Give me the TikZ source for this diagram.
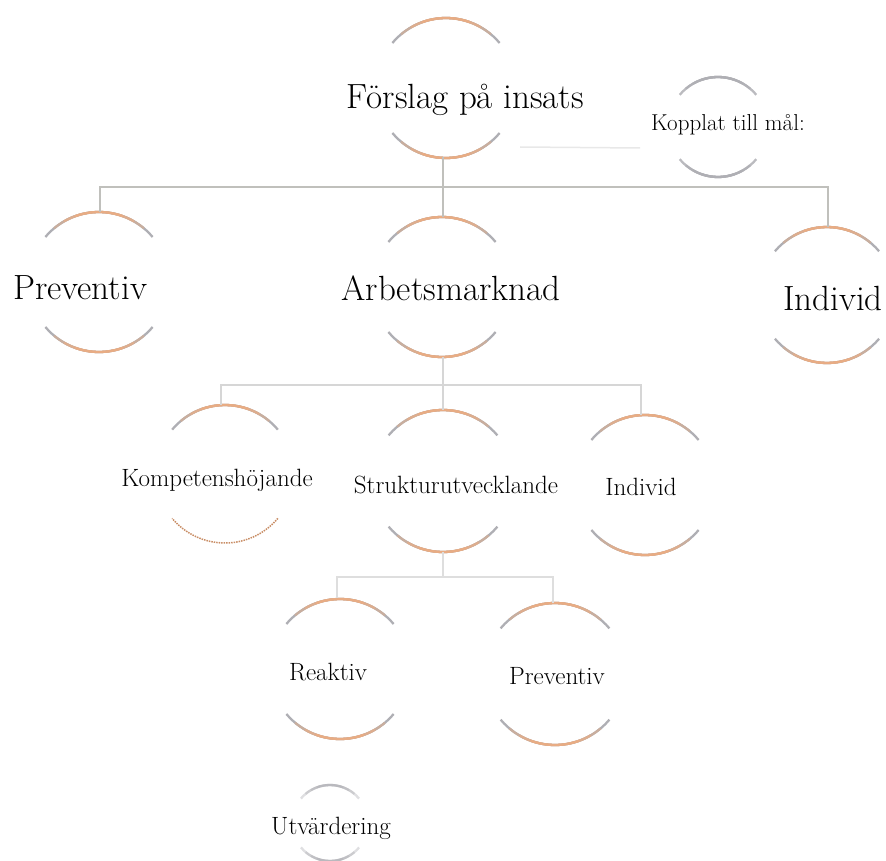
\documentclass[tikz,border=0pt]{standalone}
\usetikzlibrary{calc}
\definecolor{arcor}{RGB}{232,172,132}
\definecolor{arcgr}{RGB}{175,175,180}
\definecolor{arcbrown}{RGB}{200,140,100}
\definecolor{lineA}{RGB}{192,192,188}
\definecolor{lineB}{RGB}{214,214,214}
\definecolor{lineC}{RGB}{222,222,222}
% one arc of a ring: centre (#1,-#2), radius #3, middle colour #4, from angle #5 to #6 (grey ends)
\newcommand{\ringarc}[6]{%
  \draw[line width=2.3pt, arcgr] ([shift={(#5:#3)}]#1,-#2) arc (#5:#6:#3);
  \draw[line width=2.3pt, #4!45!arcgr] ([shift={(#5+10:#3)}]#1,-#2) arc (#5+10:#6-10:#3);
  \draw[line width=2.3pt, #4!80!arcgr] ([shift={(#5+20:#3)}]#1,-#2) arc (#5+20:#6-20:#3);
  \draw[line width=2.3pt, #4] ([shift={(#5+30:#3)}]#1,-#2) arc (#5+30:#6-30:#3);
}
\newcommand{\ringtop}[4]{\ringarc{#1}{#2}{#3}{#4}{40}{140}}
\newcommand{\ringbot}[4]{\ringarc{#1}{#2}{#3}{#4}{220}{320}}
\newcommand{\ringarcs}[4]{\ringtop{#1}{#2}{#3}{#4}\ringbot{#1}{#2}{#3}{#4}}
\begin{document}
\begin{tikzpicture}[x=1pt,y=1pt,
  lbl/.style={inner sep=0pt, text=black},
  big/.style={lbl, font=\fontsize{35}{40}\selectfont},
  mid/.style={lbl, font=\fontsize{25}{29}\selectfont},
  small/.style={lbl, font=\fontsize{23}{27}\selectfont},
  connA/.style={draw=lineA, line width=2.2pt},
  connB/.style={draw=lineB, line width=2.4pt},
  connC/.style={draw=lineC, line width=2.6pt},
  faint/.style={draw=black!9, line width=1.5pt}]
\useasboundingbox (0,0) rectangle (886,-861);

% rings
\ringarcs{446}{88}{70}{arcor}
\begin{scope}[opacity=0.85]
\ringarcs{718}{127}{50}{arcgr}
\end{scope}
\ringarcs{99}{282}{70}{arcor}
\ringarcs{442}{287}{70}{arcor}
\ringarcs{827}{295}{68}{arcor}
\ringtop{225}{474}{69}{arcor}
\draw[arcbrown, line width=1.5pt, densely dotted] ([shift={(-40:69)}]225,-474) arc (-40:-140:69);
\ringarcs{443}{481}{71}{arcor}
\ringarcs{645}{485}{70}{arcor}
\ringarcs{340}{669}{70}{arcor}
\ringarcs{555}{674}{71}{arcor}
\begin{scope}[opacity=0.4]
\ringarcs{330}{823}{38}{arcgr}
\end{scope}

% labels
\node[big]   (top)  at (465,-100) {Förslag på insats};
\node[small] (kop)  at (728,-125) {Kopplat till mål:};
\node[big]   (pre)  at (80,-288)  {Preventiv};
\node[big]   (arb)  at (451,-288) {Arbetsmarknad};
\node[big]   (ind)  at (833,-298) {Individ};
\node[mid]   (komp) at (217,-480) {Kompetenshöjande};
\node[mid]   (str)  at (456,-485) {Strukturutvecklande};
\node[mid]   (ind3) at (641,-487) {Individ};
\node[mid]   (rea)  at (328,-672) {Reaktiv};
\node[mid]   (pre4) at (557,-676) {Preventiv};
\node[mid]   (utv)  at (331,-828) {Utvärdering};

% connector end points (tops / bottoms of the rings)
\coordinate (top-b)  at (443,-157);
\coordinate (top-r)  at (520,-147);
\coordinate (kop-l)  at (640,-148);
\coordinate (bar1)   at (443,-187);
\coordinate (pre-t)  at (100,-212);
\coordinate (arb-t)  at (443,-217);
\coordinate (ind-t)  at (828,-227);
\coordinate (arb-b)  at (443,-357);
\coordinate (bar2)   at (443,-385);
\coordinate (komp-t) at (221,-405);
\coordinate (str-t)  at (443,-410);
\coordinate (ind3-t) at (641,-415);
\coordinate (str-b)  at (443,-552);
\coordinate (bar3)   at (443,-577);
\coordinate (rea-t)  at (337,-598);
\coordinate (pre4-t) at (553,-603);

% connectors
\draw[faint] (top-r) -- (kop-l);
\draw[connA] (top-b) -- (arb-t);
\draw[connA] (pre-t) |- (bar1) -| (ind-t);
\draw[connB] (arb-b) -- (str-t);
\draw[connB] (komp-t) |- (bar2) -| (ind3-t);
\draw[connC] (str-b) -- (bar3);
\draw[connC] (rea-t) |- (bar3) -| (pre4-t);
\end{tikzpicture}
\end{document}
